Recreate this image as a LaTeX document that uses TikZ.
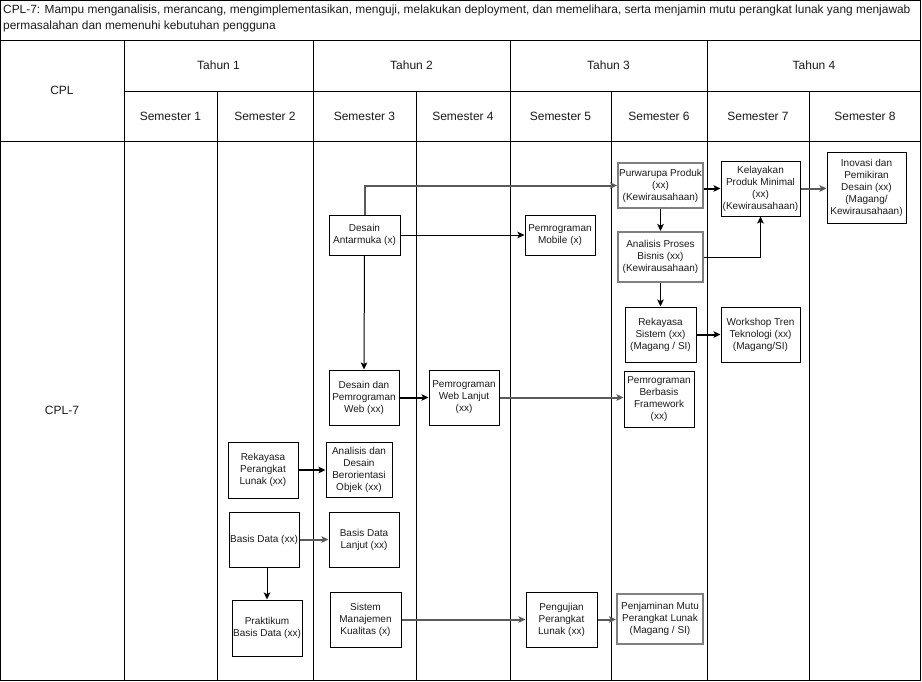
\documentclass[tikz,border=0pt]{standalone}
\usepackage{fontspec}
\setmainfont{Liberation Sans}
\usetikzlibrary{arrows.meta}
\definecolor{lnk}{HTML}{5A5A5A}
\definecolor{gbd}{HTML}{808080}
\definecolor{txt}{HTML}{1A1A1A}
\begin{document}
\begin{tikzpicture}[x=1pt,y=-1pt,
  grid/.style={line width=1pt, draw=black},
  box/.style={draw=black, line width=1pt, align=center, inner sep=0pt, font=\fontsize{10}{12}\selectfont, text=txt},
  gbox/.style={box, draw=gbd, line width=2pt},
  hdr/.style={font=\fontsize{12}{14}\selectfont, text=txt, inner sep=0pt},
  arr/.style={-{Stealth[length=7pt,width=6.5pt,inset=1.5pt]}, line width=1pt, draw=black},
  tarr/.style={arr, line width=2pt},
  garr/.style={arr, draw=lnk, line width=2pt}
]
\useasboundingbox (0,0) rectangle (922,681);

% frame and grid
\draw[grid] (0.5,0.5) rectangle (920.5,680.5);
\draw[grid] (0.5,40) -- (920.5,40);
\draw[grid] (124,91) -- (920.5,91);
\draw[grid] (0.5,141) -- (920.5,141);
\foreach \gx in {124,313,510,707} \draw[grid] (\gx,40) -- (\gx,680.5);
\foreach \gx in {217,416,611,809} \draw[grid] (\gx,91) -- (\gx,680.5);

% title
\node[anchor=north west, align=left, inner sep=0pt, font=\fontsize{11.9}{16}\selectfont, text=txt] (title) at (3,5)
  {CPL-7: Mampu menganalisis, merancang, mengimplementasikan, menguji, melakukan deployment, dan memelihara, serta menjamin mutu perangkat lunak yang menjawab\\permasalahan dan memenuhi kebutuhan pengguna};

% headers
\node[hdr] (cpl) at (62,90.5) {CPL};
\node[hdr] (t1) at (218.5,65.5) {Tahun 1};
\node[hdr] (t2) at (411.5,65.5) {Tahun 2};
\node[hdr] (t3) at (608.5,65.5) {Tahun 3};
\node[hdr] (t4) at (814,65.5) {Tahun 4};
\node[hdr] (s1) at (170.5,116) {Semester 1};
\node[hdr] (s2) at (265,116) {Semester 2};
\node[hdr] (s3) at (364.5,116) {Semester 3};
\node[hdr] (s4) at (463,116) {Semester 4};
\node[hdr] (s5) at (560.5,116) {Semester 5};
\node[hdr] (s6) at (659,116) {Semester 6};
\node[hdr] (s7) at (758,116) {Semester 7};
\node[hdr] (s8) at (865,116) {Semester 8};
\node[hdr] (cpl7) at (62,410) {CPL-7};

% course boxes
\node[box, minimum width=71pt, minimum height=40pt] (anta) at (364.5,235) {Desain\\Antarmuka (x)};
\node[box, minimum width=70pt, minimum height=40pt] (mob) at (560,235) {Pemrograman\\Mobile (x)};
\node[box, minimum width=70pt, minimum height=55pt] (dpw) at (364,397.5) {Desain dan\\Pemrograman\\Web (xx)};
\node[box, minimum width=70pt, minimum height=55pt] (pwl) at (464,397.5) {Pemrograman\\Web Lanjut\\(xx)};
\node[gbox, minimum width=85pt, minimum height=45pt] (purw) at (660.5,185.5) {Purwarupa Produk\\(xx)\\(Kewirausahaan)};
\node[box, minimum width=79pt, minimum height=55pt] (kel) at (760.5,188.5) {Kelayakan\\Produk Minimal\\(xx)\\(Kewirausahaan)};
\node[box, minimum width=79pt, minimum height=71pt] (ino) at (866.5,187.5) {Inovasi dan\\Pemikiran\\Desain (xx)\\(Magang/\\Kewirausahaan)};
\node[gbox, minimum width=85pt, minimum height=50pt] (apb) at (660.5,257) {Analisis Proses\\Bisnis (xx)\\(Kewirausahaan)};
\node[box, minimum width=71pt, minimum height=55pt] (rs) at (660.5,334.5) {Rekayasa\\Sistem (xx)\\(Magang / SI)};
\node[box, minimum width=79pt, minimum height=55pt] (wtt) at (760.5,334.5) {Workshop Tren\\Teknologi (xx)\\(Magang/SI)};
\node[box, minimum width=70pt, minimum height=56pt] (pbf) at (659,399) {Pemrograman\\Berbasis\\Framework\\(xx)};
\node[box, minimum width=70pt, minimum height=56pt] (rpl) at (263,470) {Rekayasa\\Perangkat\\Lunak (xx)};
\node[box, minimum width=66pt, minimum height=55pt] (adbo) at (359,469.5) {Analisis dan\\Desain\\Berorientasi\\Objek (xx)};
\node[box, minimum width=70pt, minimum height=55pt] (bd) at (264,539.5) {Basis Data (xx)};
\node[box, minimum width=70pt, minimum height=55pt] (bdl) at (364,539.5) {Basis Data\\Lanjut (xx)};
\node[box, minimum width=70pt, minimum height=56pt] (pbd) at (267,628) {Praktikum\\Basis Data (xx)};
\node[box, minimum width=71pt, minimum height=55pt] (smk) at (365.5,619.5) {Sistem\\Manajemen\\Kualitas (x)};
\node[box, minimum width=71pt, minimum height=55pt] (ppl) at (561.5,619.5) {Pengujian\\Perangkat\\Lunak (xx)};
\node[gbox, minimum width=86pt, minimum height=50pt] (pmpl) at (660,619) {Penjaminan Mutu\\Perangkat Lunak\\(Magang / SI)};

% connectors
\draw[garr] (anta.north) |- (purw.west);
\draw[arr] (anta.east) -- (mob.west);
\draw[arr] (anta.south) -- (dpw.north);
\draw[tarr] (dpw.east) -- (pwl.west);
\draw[garr] (pwl.east) -- (pwl.east -| pbf.west);
\draw[tarr] (purw.east |- kel.west) -- (kel.west);
\draw[garr] (kel.east) -- (kel.east -| ino.west);
\draw[arr] (purw.south) -- (apb.north);
\draw[arr] (apb.south) -- (rs.north);
\draw[arr] (apb.east) -| (kel.south);
\draw[tarr] (rs.east) -- (wtt.west);
\draw[tarr] (rpl.east) -- (rpl.east -| adbo.west);
\draw[garr] (bd.east) -- (bdl.west);
\draw[arr] (pbd.north |- bd.south) -- (pbd.north);
\draw[garr] (smk.east) -- (ppl.west);
\draw[garr] (ppl.east) -- (ppl.east -| pmpl.west);
\end{tikzpicture}
\end{document}
